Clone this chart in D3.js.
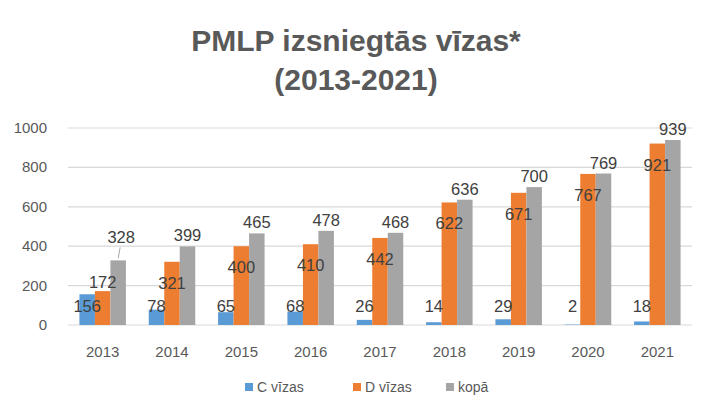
<!DOCTYPE html><html><head><meta charset="utf-8"><script src="https://cdn.jsdelivr.net/npm/d3@7"></script>
<style>body{margin:0;background:#fff}text{font-family:"Liberation Sans",Arial,sans-serif}</style></head><body><svg id="c" width="713" height="410"></svg>
<script>
const years=["2013","2014","2015","2016","2017","2018","2019","2020","2021"];
const cVisas=[156,78,65,68,26,14,29,2,18];
const dVisas=[172,321,400,410,442,622,671,767,921];
const total=[328,399,465,478,468,636,700,769,939];
const seriesNames=["C vīzas","D vīzas","kopā"];
const yTicks=[0,200,400,600,800,1000];
const colors=["#5B9BD5","#ED7D31","#A5A5A5"];
const svg=d3.select("#c");
const x=d3.scaleBand().domain(years).range([68,692]);
const y=d3.scaleLinear().domain([0,1000]).range([325,128]);
const bw=15.5;
svg.append("text").attr("x",356).attr("y",51).attr("text-anchor","middle").attr("font-size",30).attr("font-weight","bold").attr("fill","#595959").text("PMLP izsniegtās vīzas*");
svg.append("text").attr("x",356).attr("y",90).attr("text-anchor","middle").attr("font-size",30).attr("font-weight","bold").attr("fill","#595959").text("(2013-2021)");
svg.append("g").selectAll("line").data(yTicks).join("line").attr("x1",68).attr("x2",692).attr("y1",d=>y(d)).attr("y2",d=>y(d)).attr("stroke","#d9d9d9").attr("stroke-width",1.2);
svg.append("g").selectAll("text").data(yTicks).join("text").attr("x",47).attr("y",d=>y(d)+5).attr("text-anchor","end").attr("font-size",15).attr("fill","#595959").text(d=>d);
svg.append("g").selectAll("text").data(years).join("text").attr("x",d=>x(d)+x.bandwidth()/2).attr("y",357).attr("text-anchor","middle").attr("font-size",15).attr("fill","#595959").text(d=>d);
const series=[cVisas,dVisas,total];
const cxf=(s,i)=>x(years[i])+x.bandwidth()/2+(s-1)*bw;
series.forEach((vals,s)=>{
  svg.append("g").selectAll("rect").data(vals).join("rect").attr("x",(d,i)=>cxf(s,i)-bw/2).attr("width",bw).attr("y",d=>y(d)).attr("height",d=>y(0)-y(d)).attr("fill",colors[s]);
});
series.forEach((vals,s)=>{
  svg.append("g").selectAll("text").data(vals).join("text")
   .attr("x",(d,i)=>cxf(s,i)+(s==2&&i==0?3:0))
   .attr("y",(d,i)=>{let c;
     if(s==0)c=Math.min(y(d)+12,306);
     else if(s==1)c=(i==0?y(d)-9:y(d)+21);
     else c=(i==0?y(d)-23:y(d)-11);
     return c+6;})
   .attr("text-anchor","middle").attr("font-size",16.5).attr("fill","#404040").text(d=>d);
});
svg.append("line").attr("x1",cxf(2,0)+2).attr("y1",y(total[0])-13).attr("x2",cxf(2,0)).attr("y2",y(total[0])-2).attr("stroke","#a6a6a6").attr("stroke-width",1);
const lx=[245,353,446];
seriesNames.forEach((n,i)=>{
  svg.append("rect").attr("x",lx[i]).attr("y",383).attr("width",8).attr("height",8).attr("fill",colors[i]);
  svg.append("text").attr("x",lx[i]+12).attr("y",392).attr("font-size",14).attr("fill","#595959").text(n);
});
</script></body></html>
